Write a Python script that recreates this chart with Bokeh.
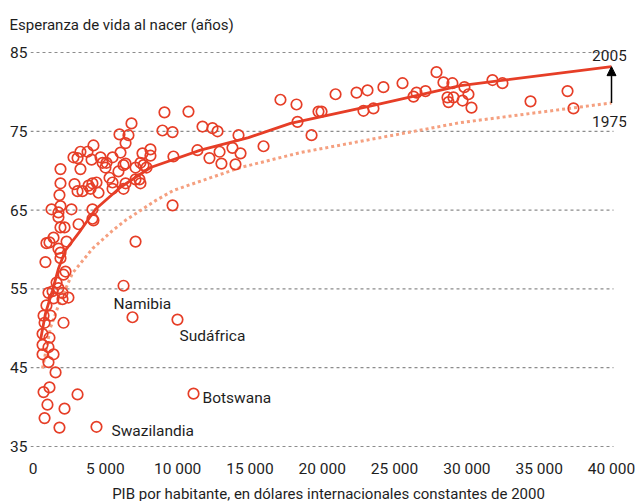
from bokeh.plotting import figure
from bokeh.models import ColumnDataSource, FixedTicker, Label, Arrow, NormalHead, Range1d
from bokeh.core.properties import value
from bokeh.embed import file_html
from bokeh.resources import INLINE

FONT = "Roboto"
FS = "15.5px"
FS_TITLE = "15px"
RED = "#e63e27"
SALMON = "#f5a080"
TEXT = "#1e1e1e"

# ---- data: GDP per capita (2000 intl $) and life expectancy 2005 ----
gdp = [
    1900, 2180, 3150, 4180, 1420, 930, 1140, 2320, 1760, 1900, 860, 1900, 2250, 2110, 7090,
    1630, 1760, 1070, 1350, 2040, 2450, 2040, 1420, 930, 1210, 730, 2110, 800, 660, 1140,
    660, 1070, 660, 1420, 1070, 1560,
    730, 1140, 3080, 1000, 2180, 800, 1830, 4390, 11100, 9990, 6880, 6260,
    6810, 5980, 6600, 6400, 4180, 3770, 3280, 6050, 2800, 3080, 4050, 4670, 5500, 7570,
    8120, 8120, 4810, 5080, 6400, 7430, 7640, 7850, 5010, 6260, 7090, 1900, 3280, 5910,
    4390, 5290, 7090, 7360, 6400, 1900, 2870, 3840, 4110, 5500, 7430, 4530, 5500, 3080,
    3420, 3980, 6260, 1830, 1280, 1760, 2660, 1900, 4110, 1760, 4110, 9650,
    9090, 10750, 8950, 9650, 11720, 12410, 12760, 14210, 17110, 18220, 18290, 15940,
    13790, 14350, 12900, 11370, 12200, 13030, 14000, 9710,
    19260, 19740, 19950, 20920, 22370, 23130, 22850, 23540, 24230, 25550, 26310, 26520,
    27140, 27900, 28380, 29000, 28660, 28730, 29070, 29700, 29830, 30110, 30320, 31770,
    32460, 34400, 36960, 37370,
]
life = [
    62.8, 62.8, 63.2, 63.7, 61.5, 60.8, 60.9, 61.0, 60.1, 59.6, 58.4, 58.9, 57.2, 56.8, 61.0,
    55.8, 55.1, 54.5, 54.7, 54.5, 53.9, 53.7, 53.8, 52.9, 51.6, 51.6, 50.7, 50.7, 49.3, 48.8,
    47.9, 47.6, 46.7, 46.7, 45.7, 44.4,
    41.9, 42.5, 41.6, 40.3, 39.8, 38.6, 37.4, 37.5, 41.7, 51.1, 51.4, 55.4,
    76.0, 74.6, 74.5, 73.5, 73.2, 72.4, 72.4, 72.3, 71.7, 71.6, 71.4, 71.7, 71.7, 72.2,
    72.7, 71.9, 71.0, 71.0, 70.9, 71.0, 70.7, 70.4, 70.4, 70.7, 70.4, 70.2, 70.2, 69.9,
    68.5, 69.1, 68.9, 68.9, 68.4, 68.4, 68.3, 68.1, 68.4, 68.5, 68.4, 67.2, 67.7, 67.4,
    67.4, 67.7, 67.7, 66.9, 65.1, 64.7, 65.1, 65.5, 65.1, 64.1, 63.9, 65.6,
    77.4, 77.5, 75.1, 74.9, 75.6, 75.4, 75.0, 74.5, 79.0, 78.4, 76.2, 73.1,
    72.9, 72.2, 72.4, 72.6, 71.6, 70.9, 70.8, 71.8,
    74.5, 77.5, 77.5, 79.7, 79.9, 80.2, 77.6, 77.9, 80.6, 81.1, 79.4, 79.9,
    80.1, 82.5, 81.2, 81.1, 79.3, 78.7, 79.3, 78.9, 80.6, 79.7, 78.0, 81.5,
    81.1, 78.8, 80.1, 77.9,
]

# ---- fitted curves ----
curve_2005_x = [519, 864, 1348, 1763, 2247, 3284, 4321, 6050, 8124, 11581, 14900, 17800, 23540, 29560, 40000]
curve_2005_y = [48.5, 51.9, 54.8, 57.6, 59.9, 62.4, 65.1, 67.9, 70.4, 72.6, 74.2, 76.0, 78.3, 80.8, 83.2]
curve_1975_x = [657, 1210, 1763, 2731, 4114, 5497, 6395, 8470, 9714, 14347, 18495, 29560, 40000]
curve_1975_y = [44.9, 50.1, 52.9, 57.0, 60.1, 62.4, 63.7, 66.2, 67.5, 70.4, 72.3, 76.1, 78.6]
series_labels = ["2005", "1975"]

# ---- annotated countries ----
country_names = ["Namibia", "Sudáfrica", "Botswana", "Swazilandia"]
country_gdp = [6880, 9990, 11100, 4390]
country_life = [51.4, 51.1, 41.7, 37.5]
country_dx = [-19, 2, 9, 15]
country_dy = [-13, 16, 4, 4]

# ---- axes ----
x_ticks = [0, 5000, 10000, 15000, 20000, 25000, 30000, 35000, 40000]
x_tick_labels = ["0", "5 000", "10 000", "15 000", "20 000", "25 000", "30 000", "35 000", "40 000"]
y_ticks = [35, 45, 55, 65, 75, 85]
y_title = "Esperanza de vida al nacer (años)"
x_title = "PIB por habitante, en dólares internacionales constantes de 2000"

# layout constants (view window, grid extent)
x_lo, x_hi = -173, 41037
grid_right = 40138
y_lo, y_hi = 34.49, 86.52

p = figure(width=638, height=501, frame_width=596, frame_height=410,
           x_range=Range1d(x_lo, x_hi), y_range=Range1d(y_lo, y_hi),
           toolbar_location=None, output_backend="svg",
           min_border_left=30, min_border_right=12, min_border_top=40, min_border_bottom=51)
p.outline_line_color = None
p.background_fill_color = "white"
p.border_fill_color = "white"

p.title.text = y_title
p.title.align = "left"
p.title.offset = -21
p.title.text_font = FONT
p.title.text_font_size = FS_TITLE
p.title.text_font_style = "normal"
p.title.text_color = TEXT
p.title.standoff = 14

p.xgrid.grid_line_color = None
p.ygrid.grid_line_color = None

for ax in (p.xaxis[0], p.yaxis[0]):
    ax.axis_line_color = None
    ax.major_tick_line_color = None
    ax.minor_tick_line_color = None
    ax.major_tick_out = 0
    ax.major_tick_in = 0
    ax.minor_tick_out = 0
    ax.minor_tick_in = 0
    ax.major_label_text_font = FONT
    ax.major_label_text_font_size = FS
    ax.major_label_text_color = TEXT

p.xaxis.ticker = FixedTicker(ticks=x_ticks)
p.xaxis.major_label_overrides = {t: s for t, s in zip(x_ticks, x_tick_labels)}
p.xaxis.major_label_standoff = 9
p.xaxis.axis_label = x_title
p.xaxis.axis_label_standoff = 4
p.xaxis.axis_label_text_font = FONT
p.xaxis.axis_label_text_font_size = FS_TITLE
p.xaxis.axis_label_text_font_style = "normal"
p.xaxis.axis_label_text_color = TEXT
p.yaxis.ticker = FixedTicker(ticks=y_ticks)
p.yaxis.major_label_standoff = 3

# dashed horizontal grid lines (stop just past the last tick)
p.segment(x0=[x_lo] * len(y_ticks), y0=y_ticks, x1=[grid_right] * len(y_ticks), y1=y_ticks,
          line_color="#8c8c8c", line_dash="3 3", line_width=1.2)

# curves and points
p.line(curve_1975_x, curve_1975_y, line_color=SALMON, line_width=3, line_dash="3 3")
p.scatter(gdp, life, marker="circle", size=10.5, fill_color=None, line_color=RED, line_width=1.7)
p.line(curve_2005_x, curve_2005_y, line_color=RED, line_width=2.8)

# country labels
src = ColumnDataSource(dict(x=country_gdp, y=country_life, t=country_names,
                            dx=country_dx, dy=country_dy))
p.text(x="x", y="y", text="t", x_offset="dx", y_offset="dy", source=src,
       text_font=value(FONT), text_font_size=FS, text_color=TEXT,
       text_align="left", text_baseline="middle")

# arrow between curves
p.add_layout(Arrow(end=NormalHead(size=9, fill_color="black", line_color="black"),
                   x_start=curve_1975_x[-1], y_start=curve_1975_y[-1],
                   x_end=curve_2005_x[-1], y_end=curve_2005_y[-1],
                   line_color="black", line_width=1.5))

p.add_layout(Label(x=curve_2005_x[-1], y=curve_2005_y[-1], text=series_labels[0],
                   x_offset=-2, y_offset=11, text_align="center", text_baseline="middle",
                   text_font=FONT, text_font_size=FS, text_color=TEXT))
p.add_layout(Label(x=curve_1975_x[-1], y=curve_1975_y[-1], text=series_labels[1],
                   x_offset=-2, y_offset=-19, text_align="center", text_baseline="middle",
                   text_font=FONT, text_font_size=FS, text_color=TEXT))

open("out.html", "w").write(file_html(p, INLINE))
